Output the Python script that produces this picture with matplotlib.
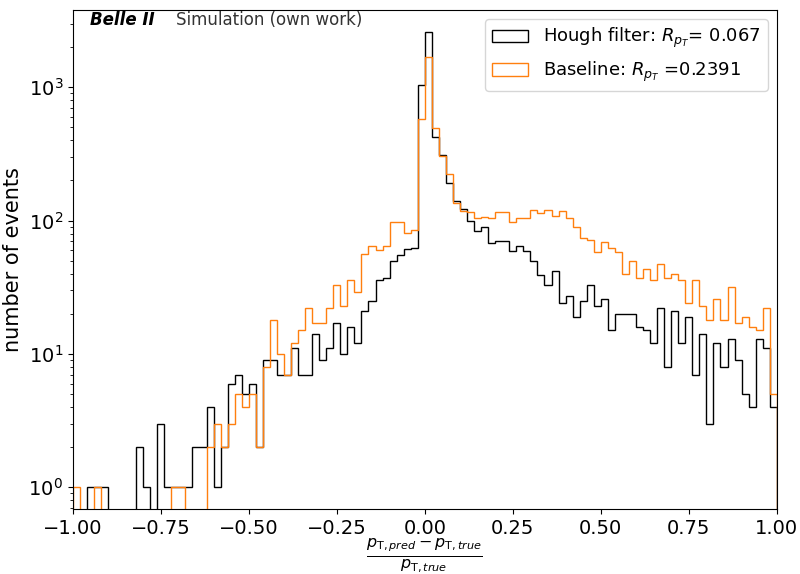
import numpy as np
import matplotlib
matplotlib.use("Agg")
import matplotlib.pyplot as plt

# 100 bins of width 0.02 from -1 to 1
bin_edges = np.linspace(-1.0, 1.0, 101)

hough_counts = [
    0, 0, 1, 1, 1, 0, 0, 0, 0, 2,
    1, 0, 3, 1, 1, 1, 1, 2, 2, 4,
    1, 2, 6, 7, 5, 6, 2, 9, 9, 7,
    7, 11, 7, 7, 14, 9, 11, 17, 10, 16,
    12, 21, 25, 36, 37, 50, 55, 61, 62, 1040,
    2590, 427, 313, 191, 140, 122, 100, 84, 90, 68,
    70, 70, 59, 64, 59, 50, 39, 33, 42, 24,
    27, 19, 25, 33, 23, 26, 15, 20, 20, 20,
    16, 15, 12, 22, 8, 21, 12, 19, 7, 14,
    3, 12, 8, 13, 9, 5, 4, 13, 11, 4,
]

baseline_counts = [
    1, 0, 0, 1, 0, 0, 0, 0, 0, 0,
    0, 0, 0, 0, 1, 1, 0, 0, 0, 2,
    3, 2, 3, 5, 4, 5, 2, 8, 18, 10,
    7, 12, 15, 22, 17, 17, 22, 33, 23, 36,
    29, 56, 65, 60, 65, 98, 97, 81, 85, 576,
    1680, 496, 306, 224, 135, 118, 117, 104, 107, 104,
    117, 117, 97, 104, 104, 120, 115, 121, 108, 118,
    105, 90, 74, 72, 58, 69, 62, 58, 40, 50,
    37, 43, 36, 47, 37, 40, 36, 24, 36, 23,
    18, 26, 18, 32, 17, 19, 16, 15, 22, 5,
]

hough_label = r"Hough filter: $R_{p_T}$= 0.067"
baseline_label = r"Baseline: $R_{p_T}$ =0.2391"

centers = 0.5 * (bin_edges[:-1] + bin_edges[1:])

fig = plt.figure(figsize=(8, 5.74), dpi=100)
ax = fig.add_axes([0.091, 0.1127, 0.88, 0.87])

ax.hist(centers, bins=bin_edges, weights=hough_counts, histtype="step",
        color="black", linewidth=1.0, label=hough_label)
ax.hist(centers, bins=bin_edges, weights=baseline_counts, histtype="step",
        color="#ff7f0e", linewidth=1.0, label=baseline_label)

ax.set_yscale("log")
ax.set_xlim(-1, 1)
ax.set_ylim(0.684, 3800)
ax.set_xticks([-1.0, -0.75, -0.5, -0.25, 0.0, 0.25, 0.5, 0.75, 1.0])
ax.tick_params(axis="both", which="major", labelsize=14)

ax.set_ylabel("number of events", fontsize=15)
ax.set_xlabel(r"$\frac{p_{\mathrm{T},pred} - p_{\mathrm{T},true}}{p_{\mathrm{T},true}}$",
              fontsize=16.5, labelpad=-1.2)

ax.text(0.025, 0.98, "Belle II", transform=ax.transAxes, fontsize=12,
        fontweight="bold", fontstyle="italic", va="center", ha="left")
ax.text(0.147, 0.98, "Simulation (own work)", transform=ax.transAxes,
        fontsize=12, color="#333333", va="center", ha="left")

ax.legend(loc="upper right", fontsize=13)

fig.savefig("out.png", dpi=100)
